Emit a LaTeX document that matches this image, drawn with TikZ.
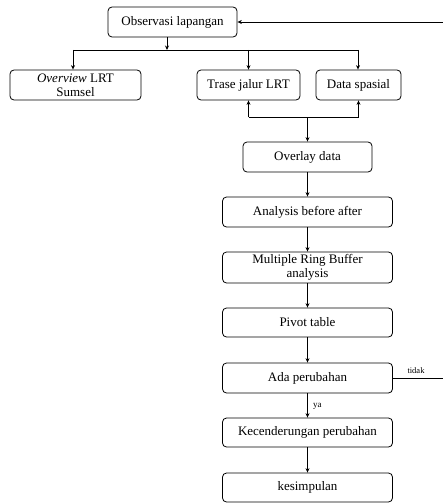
\documentclass[tikz,border=0pt]{standalone}
\usepackage{fontspec}
\setmainfont{Liberation Serif}
\usetikzlibrary{arrows.meta}
\begin{document}
\begin{tikzpicture}[x=1pt,y=-1pt,
  box/.style={draw,line width=0.8pt,rounded corners=4pt,inner sep=0pt,align=center,font=\fontsize{13}{14}\selectfont},
  arr/.style={line width=0.8pt,-{Stealth[length=4.5pt,width=4pt]}},
  ln/.style={line width=0.8pt}]
\useasboundingbox (0,0) rectangle (442,503);
\node[box,minimum width=129pt,minimum height=30pt] (obs) at (172.5,22) {Observasi lapangan};
\node[box,minimum width=131pt,minimum height=30pt] (ov) at (75.5,85) {\textit{Overview} LRT\\Sumsel};
\node[box,minimum width=103pt,minimum height=30pt] (tr) at (248.5,85) {Trase jalur LRT};
\node[box,minimum width=85pt,minimum height=30pt] (ds) at (358.5,85) {Data spasial};
\node[box,minimum width=129pt,minimum height=30pt] (ovl) at (307.5,157) {Overlay data};
\node[box,minimum width=170pt,minimum height=30pt] (an) at (307.5,212) {Analysis before after};
\node[box,minimum width=170pt,minimum height=31pt] (mr) at (307.5,267.5) {Multiple Ring Buffer\\analysis};
\node[box,minimum width=170pt,minimum height=29pt] (pv) at (307.5,322.5) {Pivot table};
\node[box,minimum width=170pt,minimum height=30pt] (ada) at (307.5,378) {Ada perubahan};
\node[box,minimum width=170pt,minimum height=29pt] (kec) at (307.5,432.5) {Kecenderungan perubahan};
\node[box,minimum width=170pt,minimum height=29pt] (kes) at (307.5,487.5) {kesimpulan};
\coordinate (j1) at (167,50);
\coordinate (jl) at (73,50);
\coordinate (jr) at (358,50);
\coordinate (j2) at (307.5,117);
\coordinate (fb) at (445,22);
\draw[arr] (obs.south -| j1) -- (j1);
\draw[ln] (jl) -- (jr);
\draw[arr] (jl) -- (jl |- ov.north);
\draw[arr] (j1 -| tr) -- (tr.north);
\draw[arr] (jr) -- (jr |- ds.north);
\draw[ln] (j2 -| tr) -- (j2 -| ds);
\draw[arr] (j2 -| tr) -- (tr.south);
\draw[arr] (j2 -| ds) -- (ds.south);
\draw[arr] (j2) -- (ovl.north);
\draw[arr] (ovl) -- (an);
\draw[arr] (an) -- (mr);
\draw[arr] (mr) -- (pv);
\draw[arr] (pv) -- (ada);
\draw[arr] (ada) -- node[right,font=\fontsize{9}{10}\selectfont,xshift=2pt,yshift=-1pt]{ya} (kec);
\draw[arr] (kec) -- (kes);
\draw[arr] (ada.east) -- (ada.east -| fb) -- (fb) -- (obs.east);
\node[font=\fontsize{8.5}{10}\selectfont,inner sep=0pt] (td) at (416,371) {tidak};
\end{tikzpicture}
\end{document}
